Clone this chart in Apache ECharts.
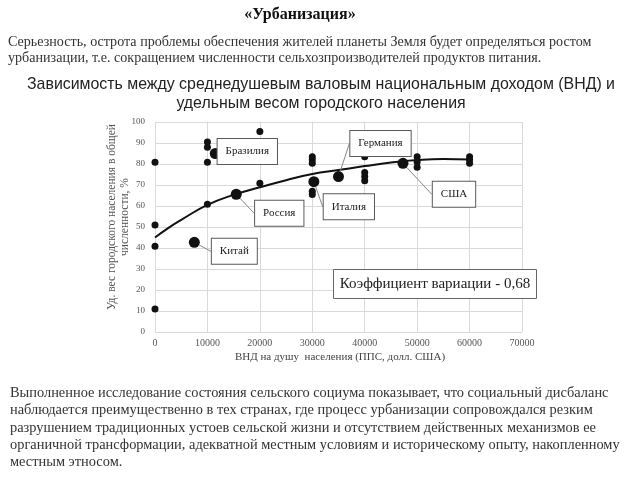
<!DOCTYPE html>
<html>
<head>
<meta charset="utf-8">
<script src="https://cdn.jsdelivr.net/npm/echarts@6/dist/echarts.min.js"></script>
<style>html,body{margin:0;padding:0;background:#fff;}#c{width:640px;height:480px;}</style>
</head>
<body>
<div id="c"></div>
<script>
// ---- data ----
var otherX = [0, 0, 0, 0, 10000, 10000, 10000, 10000, 20000, 20000, 30000, 30000, 30000, 30000, 30000, 40000, 40000, 40000, 40000, 50000, 50000, 50000, 60000, 60000, 60000];
var otherY = [80.8, 51, 40.8, 11, 90.5, 88, 80.8, 60.8, 95.5, 70.8, 83.5, 82, 80.3, 67, 65.5, 83.5, 76, 74, 72, 83.5, 81, 78.5, 83.5, 82, 80.3];
var countries = ['Бразилия', 'Россия', 'Китай', 'Италия', 'Германия', 'США'];
var countryX = [11500, 15500, 7500, 30300, 35000, 47300];
var countryY = [85, 65.6, 42.7, 71.6, 74, 80.3];
var trendX = [0, 2500, 5000, 10000, 15000, 20000, 25000, 30000, 35000, 40000, 45000, 50000, 55000, 60000];
var trendY = [45, 49.5, 53.4, 60.5, 65.3, 68.9, 72.3, 75.2, 77.1, 79, 80.7, 81.9, 82.4, 82.2];
var xTicks = [0, 10000, 20000, 30000, 40000, 50000, 60000, 70000];
var yTicks = [0, 10, 20, 30, 40, 50, 60, 70, 80, 90, 100];
var coefText = 'Коэффициент вариации - 0,68';
var heading = '«Урбанизация»';
var intro = ['Серьезность, острота проблемы обеспечения жителей планеты Земля будет определяться ростом',
             'урбанизации, т.е. сокращением численности сельхозпроизводителей продуктов питания.'];
var chartTitle = ['Зависимость между среднедушевым валовым национальным доходом (ВНД) и',
                  'удельным весом городского населения'];
var outro = ['Выполненное исследование состояния сельского социума показывает, что социальный дисбаланс',
             'наблюдается преимущественно в тех странах, где процесс урбанизации сопровождался резким',
             'разрушением традиционных устоев сельской жизни и отсутствием действенных механизмов ее',
             'органичной трансформации, адекватной местным условиям и историческому опыту, накопленному',
             'местным этносом.'];
var xName = 'ВНД на душу  населения (ППС, долл. США)';
var yName = ['Уд. вес городского населения в общей', 'численности, %'];

// ---- layout (label offsets in px, keyed by country) ----
var labelOffsets = {
  'Бразилия': [32, -2],
  'Россия': [43, 19],
  'Китай': [40, 9],
  'Италия': [35, 25],
  'Германия': [42, -33],
  'США': [51, 31]
};

var SERIF = '"Liberation Serif", "Times New Roman", serif';
var SANS = '"Liberation Sans", Arial, sans-serif';

function zip(xs, ys) { return xs.map(function (x, i) { return [x, ys[i]]; }); }

var chart = echarts.init(document.getElementById('c'), null, { renderer: 'canvas' });
var option = {
  backgroundColor: '#fff',
  animation: false,
  grid: { left: 155, right: 118, top: 122, bottom: 148 },
  xAxis: {
    type: 'value', min: xTicks[0], max: xTicks[xTicks.length - 1], interval: 10000,
    axisLine: { show: false }, axisTick: { show: false },
    splitLine: { show: true, lineStyle: { color: '#d9d9d9', width: 1 } },
    axisLabel: { fontFamily: SERIF, fontSize: 10, color: '#555', margin: 6, formatter: function (v) { return String(v); } }
  },
  yAxis: {
    type: 'value', min: yTicks[0], max: yTicks[yTicks.length - 1], interval: 10,
    axisLine: { show: false }, axisTick: { show: false },
    splitLine: { show: true, lineStyle: { color: '#d9d9d9', width: 1 } },
    axisLabel: { fontFamily: SERIF, fontSize: 9, color: '#555', margin: 10 }
  },
  series: [
    {
      type: 'line', data: zip(trendX, trendY), smooth: true, symbol: 'none',
      lineStyle: { color: '#111', width: 2 }, z: 2, silent: true
    },
    {
      type: 'scatter', data: zip(otherX, otherY), symbolSize: 7,
      itemStyle: { color: '#111', opacity: 1 }, z: 3
    },
    {
      type: 'scatter',
      data: countries.map(function (n, i) { return { name: n, value: [countryX[i], countryY[i]] }; }),
      symbolSize: 11,
      itemStyle: { color: '#111', opacity: 1 }, z: 4,
      label: {
        show: true, position: 'inside', formatter: '{b}',
        fontFamily: SERIF, fontSize: 11, color: '#222',
        backgroundColor: '#fff', borderColor: '#5a5a5a', borderWidth: 1,
        padding: [7, 8]
      },
      labelLine: { show: true, lineStyle: { color: '#888', width: 1 } },
      labelLayout: function (p) {
        var o = labelOffsets[countries[p.dataIndex]];
        return { dx: o[0], dy: o[1] };
      }
    }
  ],
  graphic: [
    { type: 'text', x: 300, y: 15, style: { text: heading, font: 'bold 16px ' + SERIF, fill: '#111', textAlign: 'center', textVerticalAlign: 'middle' } },
    { type: 'text', x: 8, y: 33.5, style: { text: intro.join('\n'), font: '14.1px ' + SERIF, fill: '#333', textAlign: 'left', textVerticalAlign: 'top', lineHeight: 16.6 } },
    { type: 'text', x: 321, y: 75.5, style: { text: chartTitle.join('\n'), font: '15.9px ' + SANS, fill: '#222', textAlign: 'center', textVerticalAlign: 'top', lineHeight: 18.5 } },
    { type: 'text', x: 10, y: 384.5, style: { text: outro.join('\n'), font: '14.4px ' + SERIF, fill: '#333', textAlign: 'left', textVerticalAlign: 'top', lineHeight: 17.3 } },
    { type: 'text', x: 340, y: 357, style: { text: xName, font: '11px ' + SERIF, fill: '#444', textAlign: 'center', textVerticalAlign: 'middle' } },
    { type: 'text', x: 118.5, y: 217, rotation: Math.PI / 2, style: { text: yName.join('\n'), font: '11.5px ' + SERIF, fill: '#555', textAlign: 'center', textVerticalAlign: 'middle', lineHeight: 13.5 } },
    { type: 'rect', shape: { x: 333.5, y: 269.5, width: 203, height: 29 }, style: { fill: '#fff', stroke: '#666', lineWidth: 1 }, z: 10 },
    { type: 'text', x: 435, y: 284, z: 11, style: { text: coefText, font: '15px ' + SERIF, fill: '#222', textAlign: 'center', textVerticalAlign: 'middle' } }
  ]
};
chart.setOption(option);
</script>
</body>
</html>
